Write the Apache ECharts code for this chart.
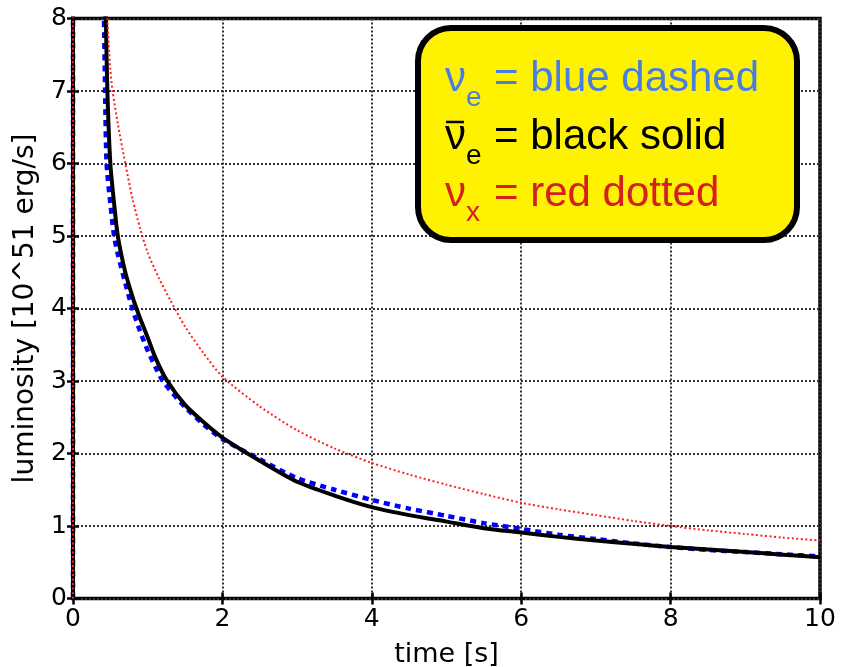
<!DOCTYPE html>
<html>
<head>
<meta charset="utf-8">
<script src="https://cdn.jsdelivr.net/npm/echarts@6/dist/echarts.min.js"></script>
<style>
  html, body { margin: 0; padding: 0; background: #fff; }
  #chart { width: 841px; height: 667px; }
</style>
</head>
<body>
<div id="chart"></div>
<script>
// Neutrino luminosity curves, [time (s), luminosity (10^51 erg/s)]
const nuE = [
  [0, 0], [0.005, 30], [0.40, 9.0], [0.415, 8.0], [0.43, 7.0], [0.45, 6.0],
  [0.5, 5.45], [0.55, 5.0], [0.6, 4.75], [0.7, 4.35], [0.8, 3.98], [0.9, 3.68],
  [1.0, 3.42], [1.1, 3.2], [1.2, 3.0], [1.5, 2.64], [1.75, 2.4], [2.0, 2.2],
  [2.5, 1.92], [3.0, 1.66], [3.5, 1.5], [4.0, 1.36], [4.5, 1.24], [5.0, 1.14],
  [5.5, 1.04], [6.0, 0.96], [6.5, 0.88], [7.0, 0.82], [7.5, 0.76], [8.0, 0.71],
  [8.5, 0.67], [9.0, 0.64], [9.5, 0.61], [10.0, 0.58]
];
const nuEbar = [
  [0, 0], [0.005, 30], [0.42, 9.2], [0.44, 8.0], [0.46, 7.0], [0.5, 6.0],
  [0.55, 5.45], [0.6, 5.0], [0.7, 4.5], [0.8, 4.15], [0.85, 4.0], [0.9, 3.86],
  [1.0, 3.6], [1.1, 3.33], [1.25, 3.02], [1.5, 2.67], [1.75, 2.43], [2.0, 2.22],
  [2.5, 1.9], [3.0, 1.61], [3.5, 1.42], [4.0, 1.26], [4.5, 1.15], [5.0, 1.06],
  [5.5, 0.97], [6.0, 0.91], [6.5, 0.85], [7.0, 0.8], [7.5, 0.755], [8.0, 0.71],
  [8.5, 0.675], [9.0, 0.64], [9.5, 0.605], [10.0, 0.57]
];
const nuX = [
  [0, 0], [0.005, 40], [0.44, 8.6], [0.46, 8.0], [0.5, 7.3], [0.53, 7.0],
  [0.6, 6.55], [0.7, 6.0], [0.8, 5.5], [0.9, 5.1], [1.0, 4.77], [1.15, 4.42],
  [1.3, 4.12], [1.5, 3.75], [1.75, 3.38], [2.0, 3.06], [2.5, 2.65], [3.0, 2.32],
  [3.5, 2.07], [4.0, 1.87], [4.5, 1.71], [5.0, 1.57], [5.5, 1.44], [6.0, 1.32],
  [6.5, 1.23], [7.0, 1.15], [7.5, 1.07], [8.0, 1.0], [8.5, 0.94], [9.0, 0.89],
  [9.5, 0.84], [10.0, 0.8]
];

const xTitle = 'time [s]';
const yTitle = 'luminosity [10^51 erg/s]';
const legendLines = [
  { sym: 'ν', sub: 'e', text: '= blue dashed', color: '#4a7de0', bar: false },
  { sym: 'ν', sub: 'e', text: '= black solid', color: '#000000', bar: true },
  { sym: 'ν', sub: 'x', text: '= red dotted', color: '#d42020', bar: false }
];

const axisFont = 'DejaVu Sans';
const gridStyle = { color: '#333', width: 2, type: [2, 2] };
const tickStyle = { show: true, inside: true, length: 6, lineStyle: { color: '#000', width: 2.5 } };

function baseX(extra) {
  return Object.assign({
    type: 'value', min: 0, max: 10, interval: 2,
    axisLine: { show: false },
    axisTick: tickStyle,
    splitLine: { show: false }
  }, extra);
}
function baseY(extra) {
  return Object.assign({
    type: 'value', min: 0, max: 8, interval: 1,
    axisLine: { show: false },
    axisTick: tickStyle,
    splitLine: { show: false }
  }, extra);
}

// Legend box content
const legendGraphics = [{
  type: 'rect',
  shape: { x: 418, y: 28, width: 379, height: 212, r: 33 },
  style: { fill: '#fff200', stroke: '#000', lineWidth: 6 },
  z: 100
}];
const baselines = [92, 150, 207];
legendLines.forEach(function (ln, i) {
  const b = baselines[i];
  legendGraphics.push({
    type: 'text', z: 101,
    style: { x: 445, y: b - 13, text: ln.sym, fill: ln.color,
      font: '42px "Liberation Sans"', verticalAlign: 'middle', align: 'left' }
  });
  legendGraphics.push({
    type: 'text', z: 101,
    style: { x: 466, y: b + 15 - 8.7, text: ln.sub, fill: ln.color,
      font: '28px "Liberation Sans"', verticalAlign: 'middle', align: 'left' }
  });
  legendGraphics.push({
    type: 'text', z: 101,
    style: { x: 494, y: b - 13, text: ln.text, fill: ln.color,
      font: '42px "Liberation Sans"', verticalAlign: 'middle', align: 'left' }
  });
  if (ln.bar) {
    legendGraphics.push({
      type: 'line', z: 101,
      shape: { x1: 446, y1: b - 28, x2: 464, y2: b - 28 },
      style: { stroke: ln.color, lineWidth: 2.5 }
    });
  }
});

const chart = echarts.init(document.getElementById('chart'), null, { renderer: 'canvas' });
chart.setOption({
  animation: false,
  backgroundColor: '#fff',
  grid: {
    left: 73, right: 21, top: 18.5, bottom: 68.5,
    outerBoundsMode: 'none', containLabel: false,
    show: true, borderColor: '#000', borderWidth: 3.5, backgroundColor: 'transparent'
  },
  xAxis: [
    baseX({
      position: 'bottom',
      name: xTitle, nameLocation: 'middle', nameGap: 43,
      nameTextStyle: { fontFamily: axisFont, fontSize: 27, color: '#000' },
      axisLabel: { fontFamily: axisFont, fontSize: 25, color: '#000', margin: 8 },
      splitLine: { show: true, lineStyle: gridStyle }
    }),
    baseX({ position: 'top', axisLabel: { show: false } })
  ],
  yAxis: [
    baseY({
      position: 'left',
      name: yTitle, nameLocation: 'middle', nameGap: 33,
      nameTextStyle: { fontFamily: axisFont, fontSize: 28, color: '#000' },
      axisLabel: { fontFamily: axisFont, fontSize: 25, color: '#000', margin: 6 },
      splitLine: { show: true, lineStyle: gridStyle }
    }),
    baseY({ position: 'right', axisLabel: { show: false } })
  ],
  series: [
    {
      name: 'nu_e', type: 'line', data: nuE, showSymbol: false, clip: true,
      smooth: 0.25,
      lineStyle: { color: '#0000ff', width: 4.5, type: [6, 5] }, z: 3
    },
    {
      name: 'anti_nu_e', type: 'line', data: nuEbar, showSymbol: false, clip: true,
      smooth: 0.25,
      lineStyle: { color: '#000000', width: 4 }, z: 4
    },
    {
      name: 'nu_x', type: 'line', data: nuX, showSymbol: false, clip: true,
      smooth: 0.25,
      lineStyle: { color: '#ff2020', width: 2, type: [2, 2.5] }, z: 5
    }
  ],
  graphic: legendGraphics
});
</script>
</body>
</html>
